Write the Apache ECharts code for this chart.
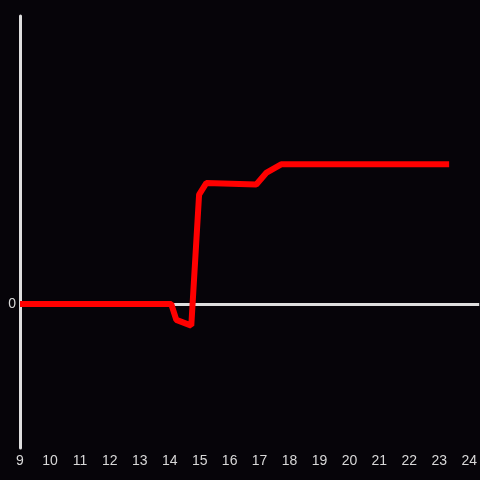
<!DOCTYPE html>
<html>
<head>
<meta charset="utf-8">
<script src="https://cdn.jsdelivr.net/npm/echarts@6/dist/echarts.min.js"></script>
<style>
  html, body { margin: 0; padding: 0; background: #060409; }
  #chart { width: 480px; height: 480px; }
</style>
</head>
<body>
<div id="chart"></div>
<script>
// x positions (hours) and values
var xValues = [9, 14.05, 14.22, 14.72, 14.98, 15.22, 16.89, 17.22, 17.72, 23.33];
var yValues = [0, 0, -0.11, -0.15, 0.76, 0.84, 0.83, 0.91, 0.97, 0.97];

var lineData = [];
for (var i = 0; i < xValues.length; i++) {
    lineData.push([xValues[i], yValues[i]]);
}

var myChart = echarts.init(document.getElementById('chart'));
var option = {
    backgroundColor: '#060409',
    animation: false,
    grid: { left: 20, right: 0, top: 16, bottom: 32 },
    xAxis: {
        type: 'value',
        min: 9,
        max: 24.3333,
        interval: 1,
        axisLine: { show: false, onZero: false },
        axisTick: { show: false },
        splitLine: { show: false },
        axisLabel: {
            color: '#d8d8d8',
            fontSize: 14,
            fontFamily: 'Liberation Sans, Arial, sans-serif',
            margin: 6,
            showMaxLabel: false,
            formatter: function (v) {
                return Math.abs(v - Math.round(v)) < 1e-6 ? String(Math.round(v)) : '';
            }
        }
    },
    yAxis: {
        type: 'value',
        min: -1,
        max: 2,
        interval: 1,
        axisLine: { show: true, lineStyle: { color: '#dedede', width: 3 } },
        axisTick: { show: false },
        splitLine: { show: false },
        axisLabel: {
            color: '#d8d8d8',
            fontSize: 14,
            fontFamily: 'Liberation Sans, Arial, sans-serif',
            margin: 4,
            formatter: function (v) { return v === 0 ? '0' : ''; }
        }
    },
    series: [
        {
            // zero line
            type: 'line',
            data: [],
            z: 1,
            markLine: {
                silent: true,
                symbol: 'none',
                label: { show: false },
                lineStyle: { color: '#dedede', width: 3, type: 'solid' },
                data: [{ yAxis: 0 }]
            }
        },
        {
            type: 'line',
            data: lineData,
            z: 5,
            showSymbol: false,
            lineStyle: { color: '#ff0000', width: 6 }
        }
    ]
};
myChart.setOption(option);
</script>
</body>
</html>
